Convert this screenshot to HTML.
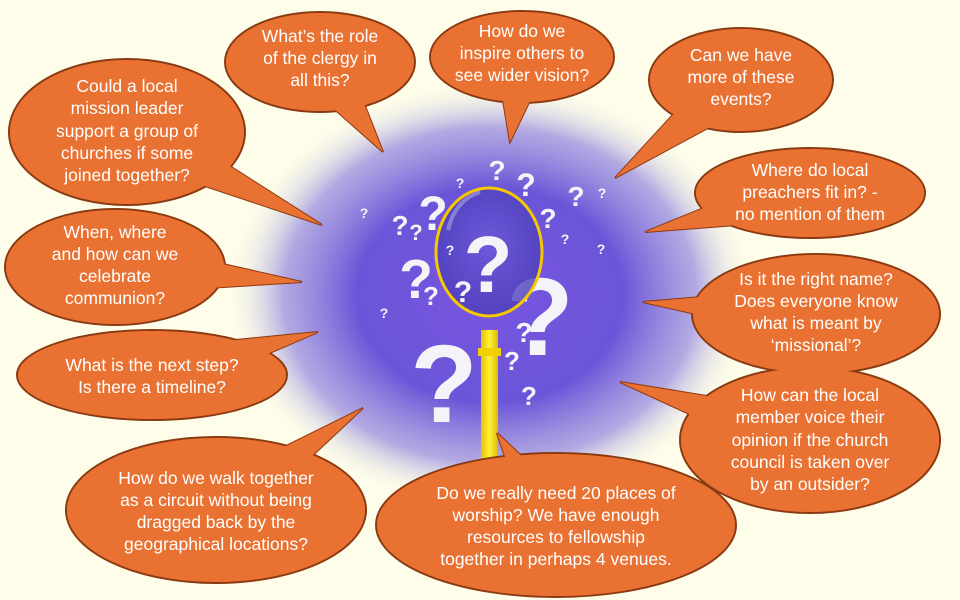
<!DOCTYPE html>
<html><head><meta charset="utf-8"><style>
html,body{margin:0;padding:0;background:#fdfde9;}
svg{display:block}
.b text{font-family:"Liberation Sans",sans-serif;font-size:17.5px;fill:#fff;text-anchor:middle}
.q{font-family:"Liberation Sans",sans-serif;font-weight:bold;fill:#f4f4f8;text-anchor:middle}
</style></head><body>
<svg width="960" height="600" viewBox="0 0 960 600" xmlns="http://www.w3.org/2000/svg">
<defs>
<radialGradient id="g" cx="0.5" cy="0.5" r="0.5">
<stop offset="0" stop-color="#7a55e0"/>
<stop offset="0.5" stop-color="#6a55d8"/>
<stop offset="0.78" stop-color="#9a8ee0" stop-opacity="0.75"/>
<stop offset="1" stop-color="#fdfde9" stop-opacity="0"/>
</radialGradient>
<radialGradient id="lens" cx="0.5" cy="0.45" r="0.55">
<stop offset="0" stop-color="#6a5ad8"/>
<stop offset="1" stop-color="#4a3cb8"/>
</radialGradient>
<linearGradient id="h" x1="0" x2="1"><stop offset="0" stop-color="#e8c000"/><stop offset="0.5" stop-color="#fff23a"/><stop offset="1" stop-color="#e0b800"/></linearGradient>
</defs>
<rect width="960" height="600" fill="#fdfde9"/>
<ellipse cx="490" cy="295" rx="265" ry="215" fill="url(#g)"/>
<rect x="481" y="330" width="17" height="140" fill="url(#h)"/>
<rect x="478" y="348" width="23" height="8" fill="#f0d000"/>
<g class="q">
<text x="444" y="422" font-size="110">?</text>
<text x="540" y="355" font-size="110">?</text>
<text x="416" y="298" font-size="55">?</text>
<text x="433" y="230" font-size="48">?</text>
<text x="400" y="235" font-size="28">?</text>
<text x="416" y="240" font-size="22">?</text>
<text x="431" y="305" font-size="26">?</text>
<text x="497" y="180" font-size="28">?</text>
<text x="526" y="196" font-size="32">?</text>
<text x="576" y="206" font-size="28">?</text>
<text x="602" y="198" font-size="14">?</text>
<text x="460" y="188" font-size="14">?</text>
<text x="364" y="218" font-size="14">?</text>
<text x="548" y="228" font-size="28">?</text>
<text x="565" y="244" font-size="14">?</text>
<text x="601" y="254" font-size="14">?</text>
<text x="384" y="318" font-size="14">?</text>
<text x="524" y="342" font-size="28">?</text>
<text x="512" y="370" font-size="26">?</text>
<text x="529" y="405" font-size="26">?</text>
</g>
<ellipse cx="489" cy="252" rx="53" ry="64" fill="url(#lens)" fill-opacity="0.8" stroke="#f5c800" stroke-width="3"/>
<g class="q"><text x="488" y="292" font-size="80">?</text><text x="463" y="302" font-size="30">?</text><text x="450" y="255" font-size="14">?</text></g>
<path d="M448 230 Q455 200 480 192" stroke="#fff" stroke-opacity="0.3" stroke-width="4" fill="none"/>

<g class="b">
<g fill="#e97132" stroke="#8a3a12" stroke-width="2">
<polygon points="383,152 298,77 342,47"/><ellipse cx="320" cy="62" rx="95" ry="50"/>
<polygon points="510,142 495,53 549,61"/><ellipse cx="522" cy="57" rx="92" ry="46"/>
<polygon points="615,178 724,59 758,101"/><ellipse cx="741" cy="80" rx="92" ry="52"/>
<polygon points="322,225 115,156 139,108"/><ellipse cx="127" cy="132" rx="118" ry="73"/>
<polygon points="645,232 804,167 816,219"/><ellipse cx="810" cy="193" rx="115" ry="45"/>
<polygon points="302,282 113,294 117,240"/><ellipse cx="115" cy="267" rx="110" ry="58"/>
<polygon points="643,302 818,287 814,341"/><ellipse cx="816" cy="314" rx="124" ry="60"/>
<polygon points="318,332 159,401 145,349"/><ellipse cx="152" cy="375" rx="135" ry="45"/>
<polygon points="620,382 818,414 802,466"/><ellipse cx="810" cy="440" rx="130" ry="73"/>
<polygon points="363,408 231,532 201,488"/><ellipse cx="216" cy="510" rx="150" ry="73"/>
<polygon points="497,433 579,510 533,540"/><ellipse cx="556" cy="525" rx="180" ry="72"/>
</g>
<g fill="#e97132">
<polygon points="383,152 298,77 342,47"/><ellipse cx="320" cy="62" rx="94" ry="49"/>
<polygon points="510,142 495,53 549,61"/><ellipse cx="522" cy="57" rx="91" ry="45"/>
<polygon points="615,178 724,59 758,101"/><ellipse cx="741" cy="80" rx="91" ry="51"/>
<polygon points="322,225 115,156 139,108"/><ellipse cx="127" cy="132" rx="117" ry="72"/>
<polygon points="645,232 804,167 816,219"/><ellipse cx="810" cy="193" rx="114" ry="44"/>
<polygon points="302,282 113,294 117,240"/><ellipse cx="115" cy="267" rx="109" ry="57"/>
<polygon points="643,302 818,287 814,341"/><ellipse cx="816" cy="314" rx="123" ry="59"/>
<polygon points="318,332 159,401 145,349"/><ellipse cx="152" cy="375" rx="134" ry="44"/>
<polygon points="620,382 818,414 802,466"/><ellipse cx="810" cy="440" rx="129" ry="72"/>
<polygon points="363,408 231,532 201,488"/><ellipse cx="216" cy="510" rx="149" ry="72"/>
<polygon points="497,433 579,510 533,540"/><ellipse cx="556" cy="525" rx="179" ry="71"/>
</g>
<text x="320" y="42">What’s the role</text><text x="320" y="64">of the clergy in</text><text x="320" y="86">all this?</text>
<text x="522" y="37">How do we</text><text x="522" y="59">inspire others to</text><text x="522" y="81">see wider vision?</text>
<text x="741" y="61">Can we have</text><text x="741" y="83">more of these</text><text x="741" y="105">events?</text>
<text x="127" y="92">Could a local</text><text x="127" y="114">mission leader</text><text x="127" y="137">support a group of</text><text x="127" y="159">churches if some</text><text x="127" y="181">joined together?</text>
<text x="810" y="176">Where do local</text><text x="810" y="198">preachers fit in? -</text><text x="810" y="220">no mention of them</text>
<text x="115" y="238">When, where</text><text x="115" y="260">and how can we</text><text x="115" y="282">celebrate</text><text x="115" y="304">communion?</text>
<text x="816" y="285">Is it the right name?</text><text x="816" y="307">Does everyone know</text><text x="816" y="329">what is meant by</text><text x="816" y="351">‘missional’?</text>
<text x="152" y="371">What is the next step?</text><text x="152" y="393">Is there a timeline?</text>
<text x="810" y="401">How can the local</text><text x="810" y="423">member voice their</text><text x="810" y="446">opinion if the church</text><text x="810" y="468">council is taken over</text><text x="810" y="490">by an outsider?</text>
<text x="216" y="484">How do we walk together</text><text x="216" y="506">as a circuit without being</text><text x="216" y="528">dragged back by the</text><text x="216" y="550">geographical locations?</text>
<text x="556" y="499">Do we really need 20 places of</text><text x="556" y="521">worship? We have enough</text><text x="556" y="543">resources to fellowship</text><text x="556" y="565">together in perhaps 4 venues.</text>
</g>
</svg>
</body></html>
